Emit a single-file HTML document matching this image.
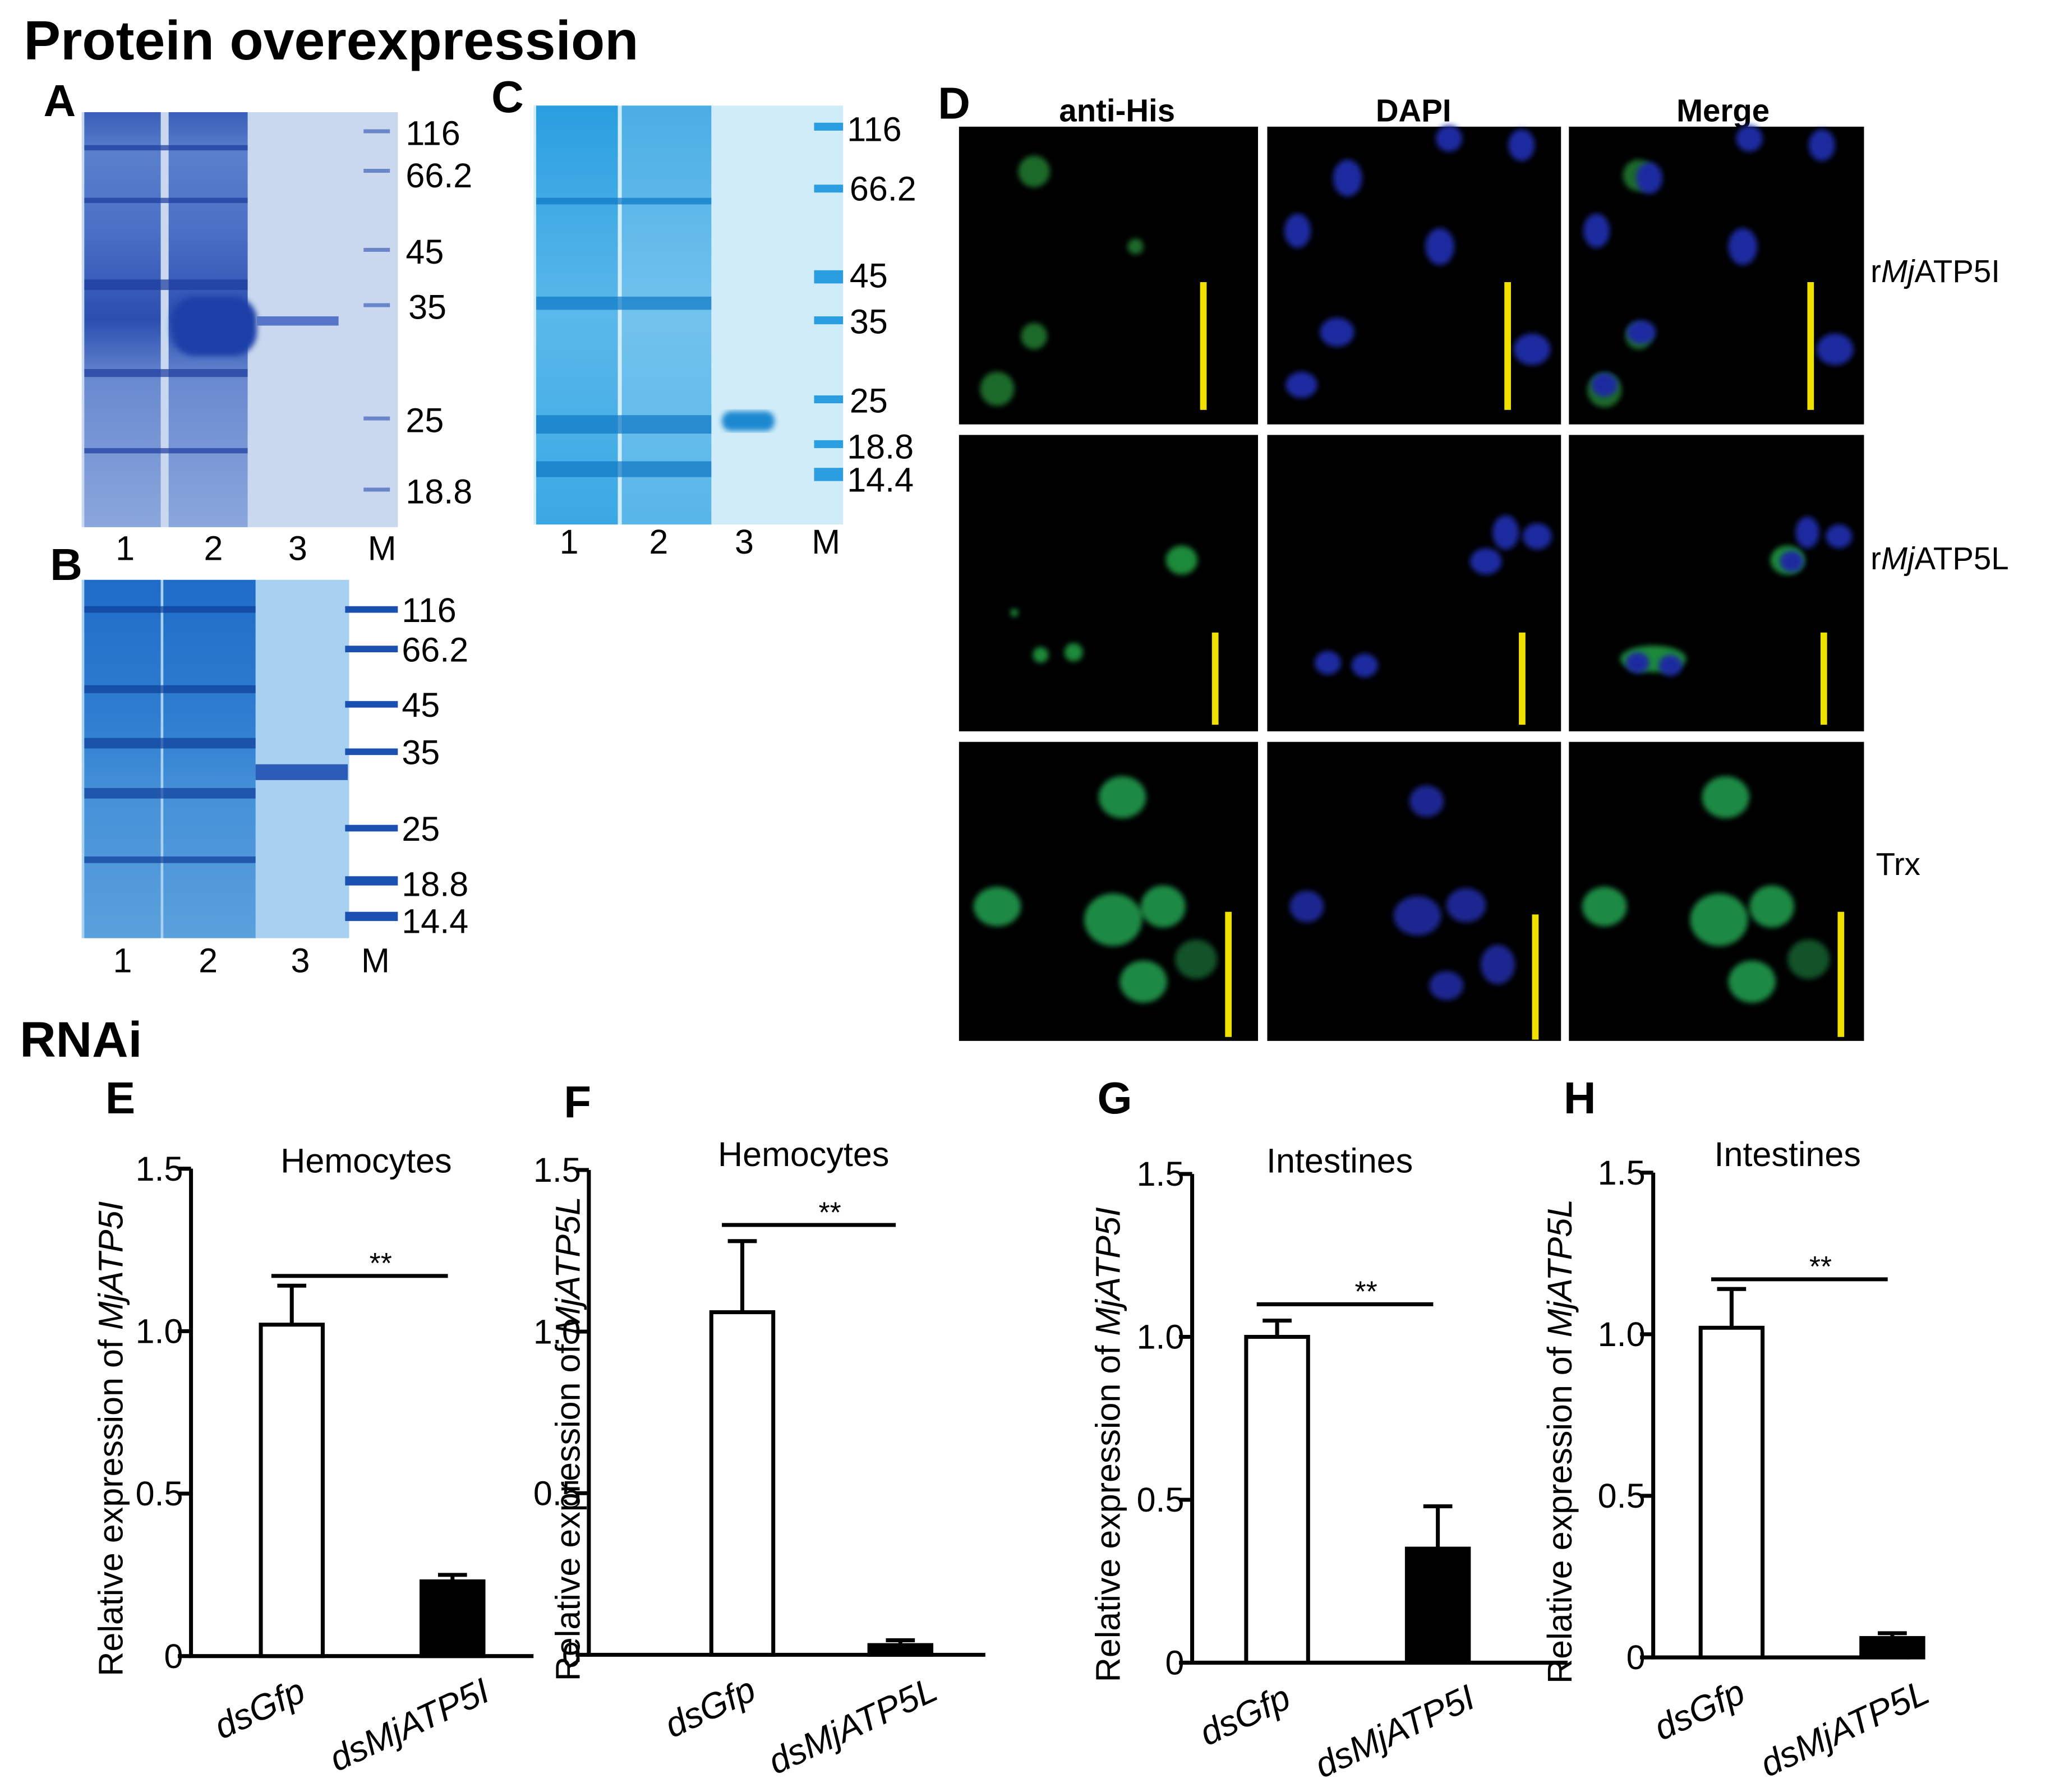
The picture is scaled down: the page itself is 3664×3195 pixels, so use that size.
<!DOCTYPE html>
<html><head><meta charset="utf-8"><style>
html,body{margin:0;padding:0;background:#fff;}
svg{display:block;font-family:"Liberation Sans",Arial,sans-serif;}
</style></head><body>
<svg id="fig" width="3664" height="3195" viewBox="0 0 1560 1360" xmlns="http://www.w3.org/2000/svg">
<defs>
<filter id="blur2"><feGaussianBlur stdDeviation="2"/></filter>
<filter id="blur4"><feGaussianBlur stdDeviation="4"/></filter>
<linearGradient id="gelA" x1="0" y1="0" x2="0" y2="1">
<stop offset="0" stop-color="#3a5fb8"/><stop offset="0.1" stop-color="#5a7fcc"/><stop offset="0.3" stop-color="#4a6ec4"/><stop offset="0.5" stop-color="#2b4fb0"/><stop offset="0.65" stop-color="#6a8ad0"/><stop offset="1" stop-color="#8aa6dc"/></linearGradient>
<linearGradient id="gelB" x1="0" y1="0" x2="0" y2="1">
<stop offset="0" stop-color="#1f6cc8"/><stop offset="0.4" stop-color="#2f7ed0"/><stop offset="0.6" stop-color="#4590d8"/><stop offset="1" stop-color="#5aa0dc"/></linearGradient>
<linearGradient id="gelC" x1="0" y1="0" x2="0" y2="1">
<stop offset="0" stop-color="#2a9ee0"/><stop offset="0.5" stop-color="#5ab8ea"/><stop offset="1" stop-color="#3aa8e4"/></linearGradient>
</defs>

<text x="18" y="45" font-size="42" font-weight="bold">Protein overexpression</text>

<!-- Gel A -->
<g>
<text x="33" y="88" font-size="34" font-weight="bold">A</text>
<rect x="62" y="85" width="240" height="315" fill="#c9d8ef"/>
<rect x="64" y="85" width="58" height="315" fill="url(#gelA)"/>
<rect x="128" y="85" width="60" height="315" fill="url(#gelA)"/>
<rect x="130" y="225" width="65" height="45" rx="18" fill="#1e40a8" filter="url(#blur2)"/>
<rect x="195" y="240" width="62" height="7" fill="#5575c8"/>
<g fill="#1c3c9c" opacity="0.7"><rect x="64" y="110" width="124" height="4"/><rect x="64" y="150" width="124" height="4"/><rect x="64" y="212" width="124" height="8"/><rect x="64" y="280" width="124" height="6"/><rect x="64" y="340" width="124" height="4"/></g>
<g fill="#6a86c8"><rect x="276" y="98" width="20" height="3"/><rect x="276" y="128" width="20" height="3"/><rect x="276" y="188" width="20" height="3"/><rect x="276" y="230" width="20" height="3"/><rect x="276" y="316" width="20" height="3"/><rect x="276" y="370" width="20" height="3"/></g>
<g font-size="26"><text x="308" y="110">116</text><text x="308" y="142">66.2</text><text x="308" y="200">45</text><text x="310" y="242">35</text><text x="308" y="328">25</text><text x="308" y="382">18.8</text></g>
<g font-size="26" text-anchor="middle"><text x="95" y="425">1</text><text x="162" y="425">2</text><text x="226" y="425">3</text><text x="290" y="425">M</text></g>
</g>

<!-- Gel B -->
<g>
<text x="38" y="440" font-size="34" font-weight="bold">B</text>
<rect x="62" y="440" width="203" height="272" fill="#a8d0f0"/>
<rect x="64" y="440" width="58" height="272" fill="url(#gelB)"/>
<rect x="124" y="440" width="70" height="272" fill="url(#gelB)"/>
<rect x="194" y="580" width="70" height="12" fill="#2a5cb8"/>
<g fill="#0e3e98" opacity="0.7"><rect x="64" y="460" width="130" height="5"/><rect x="64" y="520" width="130" height="6"/><rect x="64" y="560" width="130" height="8"/><rect x="64" y="598" width="130" height="8"/><rect x="64" y="650" width="130" height="5"/></g>
<g fill="#1a50b0"><rect x="262" y="460" width="40" height="5"/><rect x="262" y="490" width="40" height="5"/><rect x="262" y="532" width="40" height="5"/><rect x="262" y="568" width="40" height="5"/><rect x="262" y="626" width="40" height="5"/><rect x="262" y="665" width="40" height="7"/><rect x="262" y="692" width="40" height="7"/></g>
<g font-size="26"><text x="305" y="472">116</text><text x="305" y="502">66.2</text><text x="305" y="544">45</text><text x="305" y="580">35</text><text x="305" y="638">25</text><text x="305" y="680">18.8</text><text x="305" y="708">14.4</text></g>
<g font-size="26" text-anchor="middle"><text x="93" y="738">1</text><text x="158" y="738">2</text><text x="228" y="738">3</text><text x="285" y="738">M</text></g>
</g>

<!-- Gel C -->
<g>
<text x="373" y="85" font-size="34" font-weight="bold">C</text>
<rect x="405" y="80" width="235" height="318" fill="#d0ecf8"/>
<rect x="407" y="80" width="62" height="318" fill="url(#gelC)"/>
<rect x="472" y="80" width="68" height="318" fill="url(#gelC)" opacity="0.8"/>
<rect x="548" y="312" width="40" height="15" rx="7" fill="#1a88d0" filter="url(#blur2)"/>
<g fill="#0e78c4" opacity="0.7"><rect x="407" y="225" width="133" height="10"/><rect x="407" y="315" width="133" height="14"/><rect x="407" y="150" width="133" height="5"/><rect x="407" y="350" width="133" height="12"/></g>
<g fill="#2a9ee0"><rect x="618" y="93" width="22" height="6"/><rect x="618" y="140" width="22" height="6"/><rect x="618" y="205" width="22" height="10"/><rect x="618" y="240" width="22" height="6"/><rect x="618" y="300" width="22" height="6"/><rect x="618" y="334" width="22" height="6"/><rect x="618" y="355" width="22" height="10"/></g>
<g font-size="26"><text x="643" y="107">116</text><text x="645" y="152">66.2</text><text x="645" y="218">45</text><text x="645" y="253">35</text><text x="645" y="313">25</text><text x="643" y="348">18.8</text><text x="643" y="373">14.4</text></g>
<g font-size="26" text-anchor="middle"><text x="432" y="420">1</text><text x="500" y="420">2</text><text x="565" y="420">3</text><text x="627" y="420">M</text></g>
</g>

<!-- Panel D -->
<g>
<text x="712" y="90" font-size="34" font-weight="bold">D</text>
<g font-size="24" font-weight="bold" text-anchor="middle"><text x="848" y="92">anti-His</text><text x="1073" y="92">DAPI</text><text x="1308" y="92">Merge</text></g>
<g fill="#000"><rect x="728" y="96" width="227" height="226"/><rect x="962" y="96" width="223" height="226"/><rect x="1191" y="96" width="224" height="226"/>
<rect x="728" y="330" width="227" height="225"/><rect x="962" y="330" width="223" height="225"/><rect x="1191" y="330" width="224" height="225"/>
<rect x="728" y="563" width="227" height="227"/><rect x="962" y="563" width="223" height="227"/><rect x="1191" y="563" width="224" height="227"/></g>
<g fill="#1a6a2a" filter="url(#blur2)"><circle cx="785" cy="130" r="12"/><circle cx="785" cy="255" r="10"/><circle cx="757" cy="295" r="13"/><circle cx="862" cy="187" r="6"/>
<circle cx="1244" cy="133" r="12"/><circle cx="1244" cy="255" r="10"/><circle cx="1218" cy="296" r="13"/></g>
<g fill="#1a2aa0" filter="url(#blur2)"><ellipse cx="1023" cy="135" rx="11" ry="14"/><ellipse cx="1093" cy="187" rx="11" ry="14"/><ellipse cx="1015" cy="252" rx="13" ry="11"/><ellipse cx="1163" cy="265" rx="14" ry="12"/><ellipse cx="988" cy="292" rx="12" ry="10"/><ellipse cx="985" cy="175" rx="10" ry="13"/><ellipse cx="1155" cy="110" rx="10" ry="12"/><ellipse cx="1100" cy="105" rx="10" ry="10"/>
<ellipse cx="1252" cy="135" rx="10" ry="12"/><ellipse cx="1323" cy="187" rx="11" ry="14"/><ellipse cx="1246" cy="252" rx="11" ry="9"/><ellipse cx="1393" cy="265" rx="14" ry="12"/><ellipse cx="1218" cy="292" rx="10" ry="9"/><ellipse cx="1212" cy="175" rx="10" ry="13"/><ellipse cx="1383" cy="110" rx="10" ry="12"/><ellipse cx="1328" cy="105" rx="10" ry="10"/></g>
<g fill="#1a8a3a" filter="url(#blur2)"><ellipse cx="897" cy="425" rx="12" ry="11"/><circle cx="815" cy="495" r="7"/><circle cx="790" cy="497" r="6"/><circle cx="770" cy="465" r="3"/>
<ellipse cx="1357" cy="425" rx="13" ry="11"/><ellipse cx="1255" cy="500" rx="25" ry="10"/></g>
<g fill="#1a2aa0" filter="url(#blur2)"><ellipse cx="1143" cy="404" rx="10" ry="13"/><ellipse cx="1167" cy="407" rx="11" ry="10"/><ellipse cx="1128" cy="426" rx="12" ry="10"/><ellipse cx="1008" cy="503" rx="10" ry="9"/><ellipse cx="1036" cy="505" rx="10" ry="9"/>
<ellipse cx="1372" cy="404" rx="9" ry="12"/><ellipse cx="1396" cy="407" rx="10" ry="9"/><ellipse cx="1360" cy="426" rx="9" ry="8"/><ellipse cx="1243" cy="503" rx="9" ry="8"/><ellipse cx="1268" cy="505" rx="9" ry="8"/></g>
<g fill="#1c8a44" filter="url(#blur2)"><ellipse cx="852" cy="605" rx="18" ry="16"/><ellipse cx="757" cy="688" rx="18" ry="15"/><ellipse cx="845" cy="698" rx="22" ry="20"/><ellipse cx="883" cy="688" rx="17" ry="16"/><ellipse cx="868" cy="745" rx="18" ry="16"/><ellipse cx="908" cy="728" rx="16" ry="15" opacity="0.6"/>
<ellipse cx="1310" cy="605" rx="18" ry="16"/><ellipse cx="1218" cy="688" rx="17" ry="15"/><ellipse cx="1305" cy="698" rx="22" ry="20"/><ellipse cx="1345" cy="688" rx="17" ry="16"/><ellipse cx="1330" cy="745" rx="18" ry="16"/><ellipse cx="1373" cy="728" rx="16" ry="15" opacity="0.6"/></g>
<g fill="#1a2690" filter="url(#blur2)"><ellipse cx="1083" cy="608" rx="13" ry="12"/><ellipse cx="992" cy="688" rx="13" ry="12"/><ellipse cx="1076" cy="695" rx="18" ry="15"/><ellipse cx="1113" cy="687" rx="15" ry="13"/><ellipse cx="1137" cy="732" rx="13" ry="15"/><ellipse cx="1098" cy="748" rx="13" ry="11"/></g>
<g fill="#f0e000"><rect x="911" y="214" width="5" height="97"/><rect x="1142" y="214" width="5" height="97"/><rect x="1372" y="214" width="5" height="97"/>
<rect x="920" y="480" width="5" height="70"/><rect x="1153" y="480" width="5" height="70"/><rect x="1382" y="480" width="5" height="70"/>
<rect x="930" y="692" width="5" height="95"/><rect x="1163" y="694" width="5" height="95"/><rect x="1395" y="692" width="5" height="95"/></g>
<g font-size="24"><text x="1420" y="214">r<tspan font-style="italic">Mj</tspan>ATP5I</text><text x="1420" y="432">r<tspan font-style="italic">Mj</tspan>ATP5L</text><text x="1424" y="664">Trx</text></g>
</g>

<text x="15" y="802" font-size="38" font-weight="bold">RNAi</text>
<g id="charts"></g>
</svg>
<script>
const panelLetters = ["E","F","G","H"];
const panelTitles = ["Hemocytes","Hemocytes","Intestines","Intestines"];
const yLabelGenes = ["MjATP5I","MjATP5L","MjATP5I","MjATP5L"];
const categoryGfp = ["dsGfp","dsGfp","dsGfp","dsGfp"];
const categoryTarget = ["dsMjATP5I","dsMjATP5L","dsMjATP5I","dsMjATP5L"];
const gfpValues = [1.02, 1.06, 1.0, 1.02];
const gfpErrors = [0.12, 0.22, 0.05, 0.12];
const targetValues = [0.23, 0.03, 0.35, 0.06];
const targetErrors = [0.02, 0.015, 0.13, 0.015];
const sigLevels = [1.17, 1.33, 1.1, 1.17];
const sigLabels = ["**","**","**","**"];
const yTicks = [0, 0.5, 1.0, 1.5];
const yTickLabels = ["0","0.5","1.0","1.5"];
const yMax = 1.5;

const layouts = [
 {ax:145, top:887, bottom:1257, xend:405, b1:198, b2:320, bw:47, lx:80, ly:845, tx:278, ty:890, ylx:93},
 {ax:447, top:888, bottom:1256, xend:748, b1:540, b2:660, bw:47, lx:428, ly:848, tx:610, ty:885, ylx:440},
 {ax:905, top:891, bottom:1262, xend:1190, b1:946, b2:1068, bw:47, lx:833, ly:845, tx:1017, ty:890, ylx:850},
 {ax:1255, top:890, bottom:1258, xend:1450, b1:1291, b2:1413, bw:47, lx:1187, ly:845, tx:1357, ty:885, ylx:1193}
];
const NS="http://www.w3.org/2000/svg";
const root=document.getElementById('charts');
function mk(tag, attrs, parent, text){const e=document.createElementNS(NS,tag);for(const k in attrs)e.setAttribute(k,attrs[k]);if(text!==undefined)e.textContent=text;parent.appendChild(e);return e;}
layouts.forEach((L,i)=>{
 const y=v=>L.bottom-(v/yMax)*(L.bottom-L.top);
 const g=mk('g',{},root);
 
 
 const lab=mk('text',{x:L.lx,y:L.ly,'font-size':34,'font-weight':'bold'},g,panelLetters[i]);
 
 
 const t=mk('text',{x:L.tx,y:L.ty,'font-size':26,'text-anchor':'middle'},g,panelTitles[i]);
 
 
 const ax=mk('path',{d:`M${L.ax},${L.top} V${L.bottom} H${L.xend}`,stroke:'#000','stroke-width':3,fill:'none'},g);
 
 
 yTicks.forEach((v,k)=>{
  mk('line',{x1:L.ax-10,x2:L.ax,y1:y(v),y2:y(v),stroke:'#000','stroke-width':3},g);
  const tl=mk('text',{x:L.ax-6,y:y(v)+9,'font-size':26,'text-anchor':'end'},g,yTickLabels[k]);
  
  
 });
 const cy=(L.top+L.bottom)/2+20;
 const yl=mk('text',{x:L.ylx,y:cy,'font-size':26,'text-anchor':'middle',transform:`rotate(-90 ${L.ylx} ${cy})`},g);
 
 
 mk('tspan',{},yl,'Relative expression of ');
 mk('tspan',{'font-style':'italic'},yl,yLabelGenes[i]);
 [[L.b1,gfpValues[i],gfpErrors[i],'#fff',categoryGfp[i]],[L.b2,targetValues[i],targetErrors[i],'#000',categoryTarget[i]]].forEach((b,j)=>{
  const bx=b[0],v=b[1],e=b[2];
  const cx=bx+L.bw/2;
  const el=mk('line',{x1:cx,x2:cx,y1:y(v),y2:y(v+e),stroke:'#000','stroke-width':3},g);
  
  
  mk('line',{x1:cx-11,x2:cx+11,y1:y(v+e),y2:y(v+e),stroke:'#000','stroke-width':3},g);
  const r=mk('rect',{x:bx,y:y(v),width:L.bw,height:L.bottom-y(v),fill:b[3],stroke:'#000','stroke-width':3},g);
  
  
  const lx=j==0?cx+12:cx+30, ly=L.bottom+33;
  const xl=mk('text',{x:lx,y:ly,'font-size':27,'font-style':'italic','text-anchor':'end',transform:`rotate(-25 ${lx} ${ly})`},g,b[4]);
  
  
 });
 const sy=y(sigLevels[i]);
 const sl=mk('line',{x1:L.b1+8,x2:L.b2+20,y1:sy,y2:sy,stroke:'#000','stroke-width':3},g);
 
 
 const st=mk('text',{x:(L.b1+L.b2)/2+30,y:sy-2,'font-size':22,'text-anchor':'middle'},g,sigLabels[i]);
 
 
});
</script>
</body></html>
